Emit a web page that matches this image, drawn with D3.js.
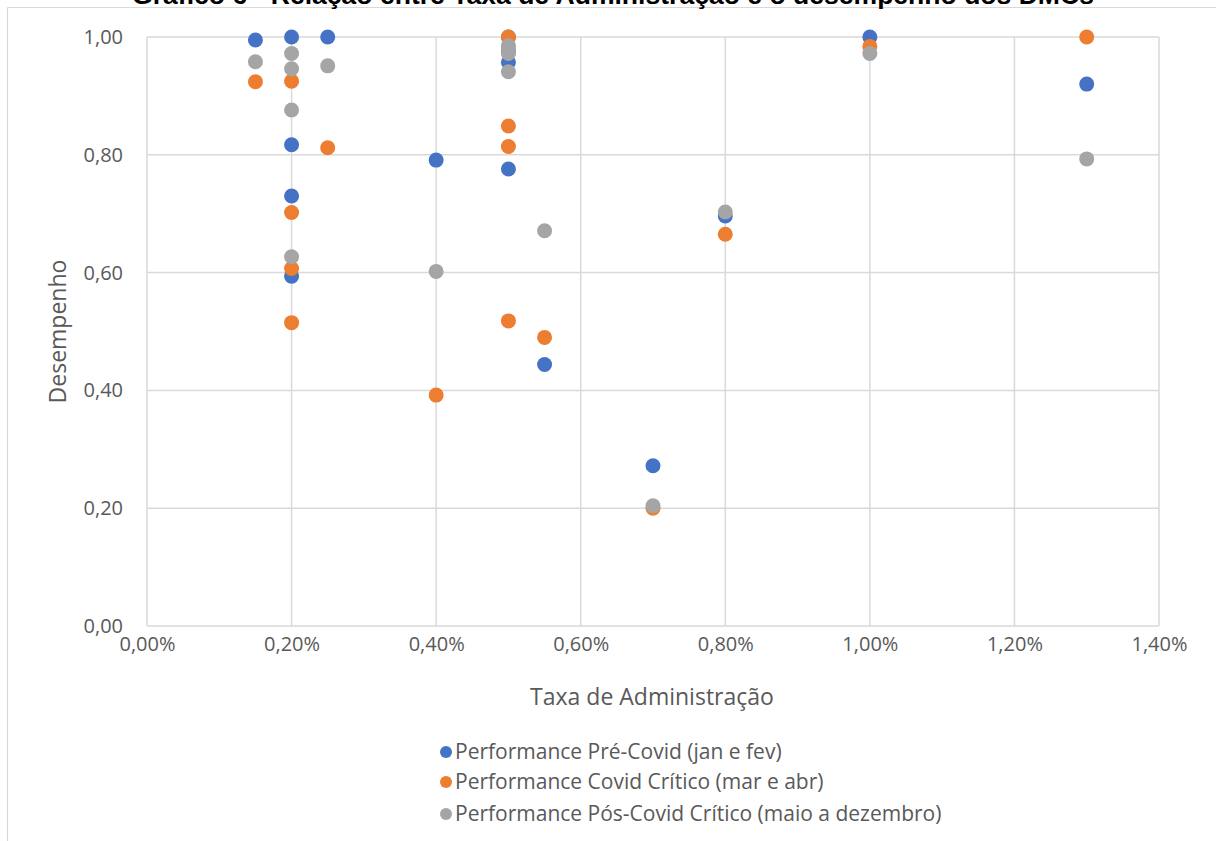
<!DOCTYPE html>
<html><head><meta charset="utf-8">
<script src="https://cdn.jsdelivr.net/npm/d3@7"></script>
<style>
html,body{margin:0;padding:0;background:#fff;}
svg{display:block;}
text{font-family:"Open Sans",sans-serif;fill:#595959;}
</style></head>
<body>
<svg id="chart" width="1216" height="841"></svg>
<script>
// ---- data ----
const titleText = "Gráfico 6 - Relação entre Taxa de Administração e o desempenho dos DMCs";
const xTitle = "Taxa de Administração";
const yTitle = "Desempenho";
const seriesNames = [
  "Performance Pré-Covid (jan e fev)",
  "Performance Covid Crítico (mar e abr)",
  "Performance Pós-Covid Crítico (maio a dezembro)"
];
const seriesColors = ["#4472C4", "#ED7D31", "#A5A5A5"];
// taxa de administração (%) for each fund
const taxa =      [0.15, 0.20, 0.20, 0.20, 0.20, 0.25, 0.40, 0.50, 0.50, 0.50, 0.50, 0.55, 0.70, 0.80, 1.00, 1.30];
const preCovid =  [0.995,1.000,0.817,0.730,0.594,1.000,0.791,1.000,0.975,0.957,0.776,0.444,0.272,0.696,1.000,0.920];
const covid =     [0.924,0.925,0.702,0.607,0.515,0.812,0.392,1.000,0.849,0.814,0.518,0.490,0.200,0.665,0.984,1.000];
const posCovid =  [0.958,0.972,0.946,0.876,0.627,0.951,0.602,0.985,0.980,0.972,0.941,0.671,0.204,0.703,0.972,0.793];
const xTicks = [0, 0.2, 0.4, 0.6, 0.8, 1.0, 1.2, 1.4];
const yTicks = [0, 0.2, 0.4, 0.6, 0.8, 1.0];

const series = [preCovid, covid, posCovid];

// ---- layout ----
const svg = d3.select("#chart");
const pLeft = 147, pRight = 1159, pTop = 37, pBottom = 626;
const x = d3.scaleLinear().domain([0, 1.4]).range([pLeft, pRight]);
const y = d3.scaleLinear().domain([0, 1]).range([pBottom, pTop]);
const fmtX = v => d3.format(".2f")(v).replace(".", ",") + "%";
const fmtY = v => d3.format(".2f")(v).replace(".", ",");

// chart border (partially visible)
svg.append("line").attr("x1", 7.5).attr("x2", 1216).attr("y1", 7.5).attr("y2", 7.5)
  .attr("stroke", "#d9d9d9").attr("stroke-width", 1.2);
svg.append("line").attr("x1", 7.5).attr("x2", 7.5).attr("y1", 7.5).attr("y2", 841)
  .attr("stroke", "#d9d9d9").attr("stroke-width", 1.2);

// title (cut off at top, as in the reference)
const title = svg.append("text").attr("x", 613).attr("y", 4).attr("text-anchor", "middle")
  .style("font-family", "'Liberation Sans', Arial, sans-serif").style("font-weight", "bold")
  .style("fill", "#000").style("font-size", "20px").text(titleText);
const tw = title.node().getComputedTextLength();
title.style("font-size", (20 * 962 / tw).toFixed(2) + "px");

// gridlines
const grid = svg.append("g");
grid.selectAll("line.h").data(yTicks).join("line").attr("class", "h")
  .attr("x1", pLeft).attr("x2", pRight).attr("y1", d => y(d)).attr("y2", d => y(d))
  .attr("stroke", "#d9d9d9").attr("stroke-width", 1.5);
grid.selectAll("line.v").data(xTicks).join("line").attr("class", "v")
  .attr("y1", pTop).attr("y2", pBottom).attr("x1", d => x(d)).attr("x2", d => x(d))
  .attr("stroke", "#d9d9d9").attr("stroke-width", 1.5);

// axes
const yAxis = svg.append("g").attr("transform", `translate(${pLeft},0)`)
  .call(d3.axisLeft(y).tickValues(yTicks).tickFormat(fmtY).tickSize(0).tickPadding(24));
const xAxis = svg.append("g").attr("transform", `translate(0,${pBottom})`)
  .call(d3.axisBottom(x).tickValues(xTicks).tickFormat(fmtX).tickSize(0).tickPadding(23));
[xAxis, yAxis].forEach(a => {
  a.select(".domain").remove();
  a.selectAll("text").style("font-size", "20px").style("fill", "#595959")
    .style("font-family", "'Open Sans', sans-serif");
});
xAxis.selectAll("text").attr("dy", "0.1em");

// axis titles
svg.append("text").attr("x", 652).attr("y", 705).attr("text-anchor", "middle")
  .style("font-size", "23px").text(xTitle);
svg.append("text").attr("transform", "translate(66,331.5) rotate(-90)")
  .attr("text-anchor", "middle").style("font-size", "23px").text(yTitle);

// points
series.forEach((vals, si) => {
  svg.append("g").selectAll("circle").data(vals).join("circle")
    .attr("cx", (d, i) => x(taxa[i])).attr("cy", d => y(d)).attr("r", 7.5)
    .attr("fill", seriesColors[si]);
});

// legend
const legY = [752, 782, 814];
const leg = svg.append("g");
seriesNames.forEach((n, i) => {
  leg.append("circle").attr("cx", 446).attr("cy", legY[i]).attr("r", 6).attr("fill", seriesColors[i]);
  leg.append("text").attr("x", 455).attr("y", legY[i]).attr("dy", "0.35em")
    .style("font-size", "21px").text(n);
});
</script>
</body></html>
